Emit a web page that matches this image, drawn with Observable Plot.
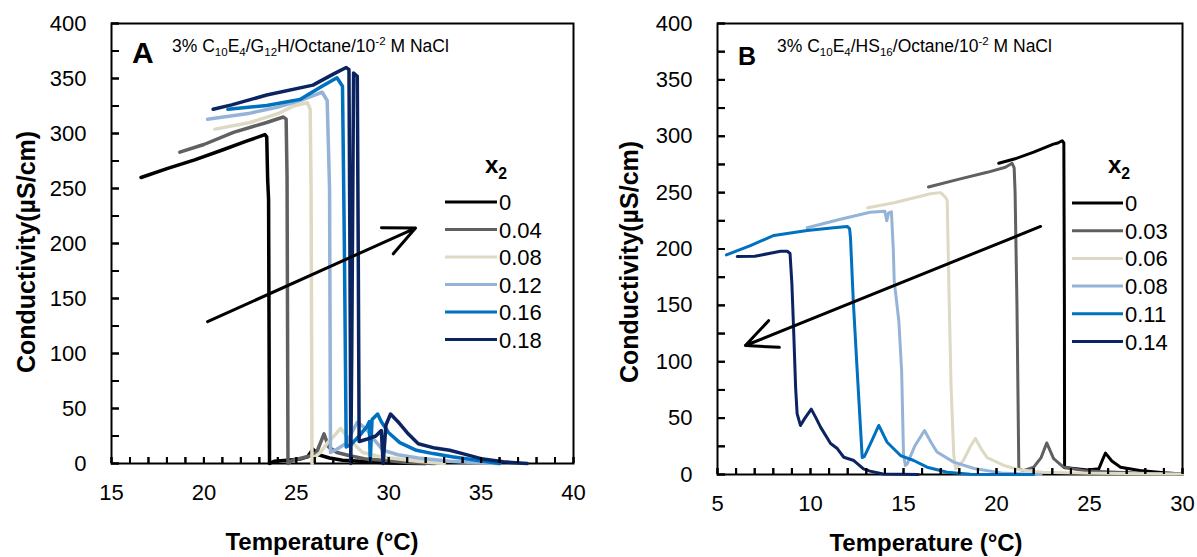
<!DOCTYPE html>
<html><head><meta charset="utf-8">
<script src="https://cdn.jsdelivr.net/npm/d3@7"></script>
<script src="https://cdn.jsdelivr.net/npm/@observablehq/plot@0.6"></script>
<style>
body{margin:0;background:#fff;}
#wrap{position:relative;width:1197px;height:557px;overflow:hidden;background:#fff;font-family:"Liberation Sans",Arial,sans-serif;}
.pane{position:absolute;top:0;height:557px;}
</style></head><body><div id="wrap"><div id="pa" class="pane" style="left:0;width:592px"></div><div id="pb" class="pane" style="left:600px;width:597px"></div></div>
<script>
// ---------- data: panel A (3% C10E4/G12H/Octane/10^-2 M NaCl) ----------
const labelsA = ["0","0.04","0.08","0.12","0.16","0.18"];
const colorsA = ["#000000","#606060","#DDD9C3","#95B3D7","#0070C0","#0B2461"];
const A_0 = [[16.6,260],[18,268],[19.5,276],[21,285],[22.3,293],[23.3,299],[23.4,297],[23.45,258],[23.5,240],[23.55,0],[23.8,2],[24.5,3],[25.2,4],[25.6,6],[25.9,13],[26.2,8],[26.8,5],[27.5,3],[28.5,2],[30,0.5],[32,0]];
const A_1 = [[18.7,283],[20,290],[21.6,301],[23.4,310],[24.3,315],[24.45,313],[24.5,260],[24.55,0],[24.8,3],[25.3,5],[25.8,7],[26.1,10],[26.5,27],[26.75,15],[27.2,10],[27.9,7],[28.8,4],[29.7,3],[31,1],[32.5,0]];
const A_2 = [[20.6,304],[22.5,310],[24,318],[24.85,325],[25.6,328],[25.75,322],[25.8,250],[25.85,0],[26.0,6],[26.3,10],[26.7,19],[27.1,26],[27.4,32],[27.9,21],[28.6,10],[29.3,7],[30.1,5],[31.6,2],[33,0]];
const A_3 = [[20.2,313],[22.5,318.5],[24,324],[25.2,330],[26.4,337.5],[26.67,330],[26.8,250],[26.85,10],[27.2,13],[27.75,19],[28.0,28],[28.3,37.5],[28.75,32],[29.2,22],[29.7,12],[30.5,8],[31.6,5],[33.3,2],[35,0.5],[36,0]];
const A_4 = [[21.3,322],[23.4,325.5],[25.2,331],[26.3,342],[27.2,350.6],[27.5,343],[27.6,200],[27.7,15],[28.0,18],[28.4,25],[28.8,33],[28.95,38],[29.0,2],[29.1,40],[29.4,45],[29.6,38],[30.0,28],[30.6,19],[31.5,12],[32.4,9],[33.5,6],[34.3,4],[36,0]];
const A_5 = [[20.5,322],[21.5,326],[23.4,335],[25.9,344],[27.0,354],[27.7,360],[27.85,358],[27.9,200],[27.95,0],[28.0,100],[28.1,355],[28.3,352],[28.35,200],[28.4,20],[28.8,22],[29.3,25],[29.6,30],[29.7,0],[29.85,35],[30.1,45],[30.5,38],[31,28],[31.6,18],[32.5,14],[33.3,12],[34,9],[35.1,4],[36.2,1.5],[37.5,0]];
const arrowA = [{x1:20.2,y1:129,x2:31.45,y2:214}];
const xMajorA = [15,20,25,30,35,40];

// ---------- data: panel B (3% C10E4/HS16/Octane/10^-2 M NaCl) ----------
const labelsB = ["0","0.03","0.06","0.08","0.11","0.14"];
const colorsB = ["#000000","#606060","#DDD9C3","#95B3D7","#0070C0","#0B2461"];
const B_0 = [[20.12,276],[21,280],[22,286],[23.06,293],[23.3,294],[23.53,296],[23.62,294],[23.65,150],[23.66,6],[23.8,6],[24.9,4],[25.5,5],[25.75,15],[25.86,19],[26.2,12],[26.67,6.5],[27.7,3.5],[29,1.5],[30,0.5]];
const B_1 = [[16.34,255],[18,262],[19.5,268],[20.48,272.5],[20.84,276],[20.95,272],[21.0,250],[21.05,200],[21.1,150],[21.2,5],[21.45,3.5],[22,6.5],[22.4,15],[22.7,28],[23.07,14],[23.6,6.5],[24.9,3],[26.5,2],[28,1],[30,0.5]];
const B_2 = [[13.08,236.5],[14.5,241],[16.45,249],[17.0,250],[17.25,246],[17.35,243],[17.44,166],[17.56,77],[17.7,18],[17.8,5],[18.2,12],[18.6,25],[18.87,32],[19.2,22],[19.5,15],[20.4,8],[21.3,4],[22.5,2],[25,1],[30,0.5]];
const B_3 = [[9.82,218.8],[11.5,226],[13.2,232.6],[14.0,233.5],[14.1,225],[14.2,232],[14.35,233],[14.45,200],[14.5,172],[14.75,136],[14.9,92],[15.0,18],[15.1,8],[15.2,9.5],[15.6,25],[16.13,39],[16.5,28],[16.8,20],[17.7,11],[18.8,5.3],[20.4,1],[22.4,0]];
const B_4 = [[5.48,194.8],[6.77,203],[8.03,212],[9.82,216.4],[11.25,218.8],[11.97,220],[12.1,218],[12.15,210],[12.3,154],[12.5,95],[12.78,15],[12.9,16],[13.3,30],[13.67,43.5],[14.12,28.6],[14.84,16.8],[15.55,12.4],[16.27,6.5],[17.35,2],[18.6,0.3],[22,0]];
const B_5 = [[6.06,193.3],[7,193.5],[7.3,194.5],[8.39,198],[8.75,198],[8.9,196],[9.0,169],[9.1,125],[9.2,77],[9.28,54],[9.46,43.5],[9.7,50],[10.04,58],[10.3,50],[10.54,42],[11.08,27.5],[11.44,23],[11.79,15.3],[12.33,12.4],[12.85,5],[13.2,3],[13.9,0.5],[15.8,0]];
const arrowB = [{x1:22.37,y1:220,x2:6.5,y2:114.4}];
const xMajorB = [5,10,15,20,25,30];

const yMajor = [0,50,100,150,200,250,300,350,400];
const yMinor = d3.range(0,401,25);

const FONT = "'Liberation Sans', Arial, sans-serif";
const H = 557;

function panel({series, labels, colors, xDomain, xMajor, arrows, width, mL, mR, mT, mB, lw}) {
  const rows = series.flatMap((s,i)=>s.map(([T,C])=>({T,C,k:labels[i]})));
  const xMinor = d3.range(xDomain[0], xDomain[1]+0.001, 1);
  const pw = width - mL - mR, ph = H - mT - mB;
  return Plot.plot({
    width, height: H, marginLeft: mL, marginRight: mR, marginTop: mT, marginBottom: mB,
    style: {fontFamily: FONT, fontSize: "22px", color: "#000", background: "transparent", maxWidth: "none"},
    x: {domain: xDomain, label: null},
    y: {domain: [0,400], label: null},
    color: {domain: labels, range: colors},
    marks: [
      Plot.frame({stroke:"#000", strokeWidth:2}),
      Plot.axisY({ticks: yMajor, tickSize: 0, tickPadding: 25, label: null}),
      Plot.axisX({ticks: xMajor, tickSize: 0, tickPadding: 21, label: null}),
      Plot.line(rows, {x:"T", y:"C", z:"k", stroke:"k", strokeWidth: lw, strokeLinejoin:"round", strokeLinecap:"round"}),
      Plot.arrow(arrows, {x1:"x1", y1:"y1", x2:"x2", y2:"y2", stroke:"#000", strokeWidth:3, headLength:17, headAngle:50}),
      Plot.axisY({ticks: yMinor, tickSize: -8, tickFormat: () => "", label: null, stroke: "#000", strokeWidth: 2}),
      Plot.axisX({ticks: xMinor, tickSize: -6, tickFormat: () => "", label: null, stroke: "#000", strokeWidth: 2}),
      Plot.tickY(yMinor, {y: d => d, stroke: "#000", strokeWidth: 2, insetRight: pw - 8}),
      Plot.tickX(xMinor, {x: d => d, stroke: "#000", strokeWidth: 2, insetTop: ph - 6})
    ]
  });
}

document.getElementById("pa").append(panel({series:[A_0,A_1,A_2,A_3,A_4,A_5], labels:labelsA, colors:colorsA, xDomain:[15,40], xMajor:xMajorA, arrows:arrowA, width:592, mL:111, mR:19, mT:23, mB:94, lw:3.5}));
document.getElementById("pb").append(panel({series:[B_0,B_1,B_2,B_3,B_4,B_5], labels:labelsB, colors:colorsB, xDomain:[5,30], xMajor:xMajorB, arrows:arrowB, width:597, mL:117, mR:15, mT:23, mB:83, lw:3}));

// ---------- annotation overlay: panel letters, subtitles, axis titles, legends ----------
const svg = d3.select("#wrap").append("svg")
  .attr("width",1197).attr("height",557)
  .style("position","absolute").style("left",0).style("top",0)
  .style("font-family", FONT).style("pointer-events","none");

function rich(x, y, parts, size, weight) {
  const t = svg.append("text").attr("x",x).attr("y",y).attr("font-size",size)
    .attr("font-weight",weight||"normal").style("white-space","pre");
  let shift = 0;
  for (const [s, mode] of parts) {
    const target = mode==="sub" ? size*0.25 : mode==="sup" ? -size*0.4 : 0;
    t.append("tspan").attr("dy", target - shift)
      .attr("font-size", mode ? size*0.66 : size).text(s);
    shift = target;
  }
  return t;
}

rich(132, 63, [["A"]], 30, "bold");
rich(172, 52, [["3% C"],["10","sub"],["E"],["4","sub"],["/G"],["12","sub"],["H/Octane/10"],["-2","sup"],[" M NaCl"]], 17.5);
rich(738, 65, [["B"]], 25, "bold");
rich(777, 52, [["3% C"],["10","sub"],["E"],["4","sub"],["/HS"],["16","sub"],["/Octane/10"],["-2","sup"],[" M NaCl"]], 17.5);

function ytitle(cx, cy) {
  svg.append("text").attr("transform",`translate(${cx},${cy}) rotate(-90)`)
    .attr("text-anchor","middle").attr("dominant-baseline","central")
    .attr("font-size",25).attr("font-weight","bold").text("Conductivity(µS/cm)");
}
function xtitle(cx, y) {
  svg.append("text").attr("x",cx).attr("y",y).attr("text-anchor","middle")
    .attr("font-size",24).attr("font-weight","bold").text("Temperature (°C)");
}
ytitle(26, 252); ytitle(629, 262);
xtitle(322, 550); xtitle(926, 551);

function legend(x0, x1, ys, labels, colors, titleX) {
  rich(titleX, 173, [["x"],["2","sub"]], 24, "bold");
  labels.forEach((l,i)=>{
    svg.append("line").attr("x1",x0).attr("x2",x1).attr("y1",ys[i]).attr("y2",ys[i])
      .attr("stroke",colors[i]).attr("stroke-width",3);
    svg.append("text").attr("x",x1+2).attr("y",ys[i]+8).attr("font-size",22).text(l);
  });
}
legend(445, 497, [202,229.5,257,284.5,312,339.5], labelsA, colorsA, 485);
legend(1072, 1123, [203,230.7,258.4,286.1,313.8,341.5], labelsB, colorsB, 1108);
</script></body></html>
